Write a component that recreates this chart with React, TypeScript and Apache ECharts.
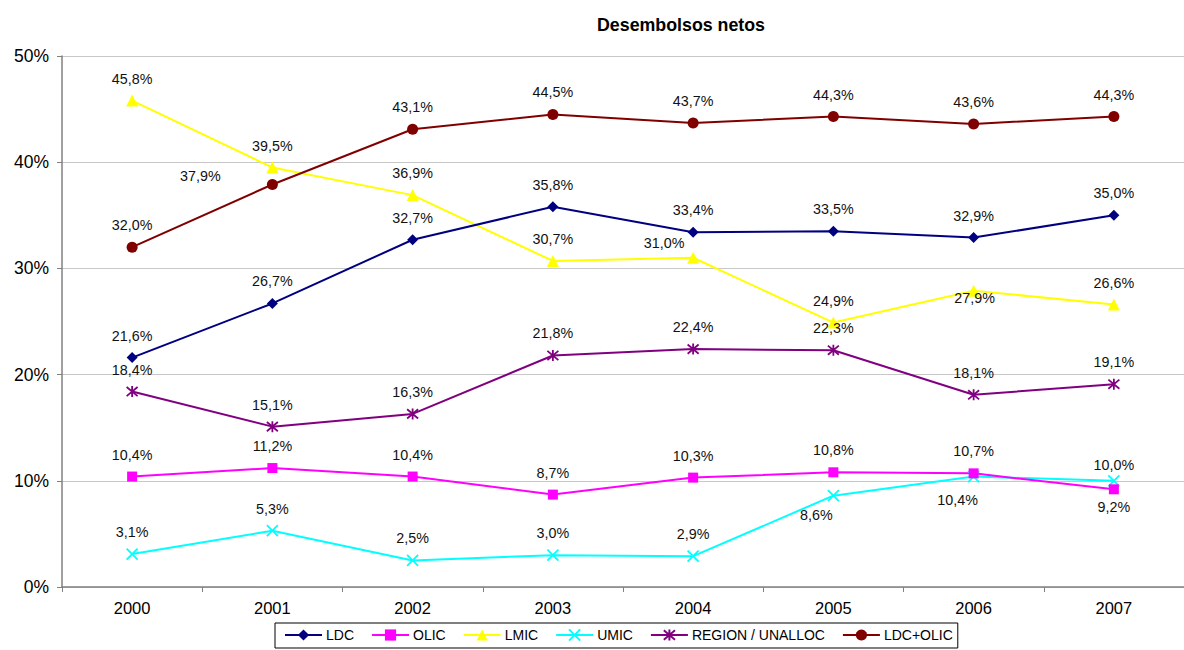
import React, { useEffect, useRef } from "react";
import * as echarts from "echarts";

const years = ["2000", "2001", "2002", "2003", "2004", "2005", "2006", "2007"];
const ldc = [21.6, 26.7, 32.7, 35.8, 33.4, 33.5, 32.9, 35.0];
const olic = [10.4, 11.2, 10.4, 8.7, 10.3, 10.8, 10.7, 9.2];
const lmic = [45.8, 39.5, 36.9, 30.7, 31.0, 24.9, 27.9, 26.6];
const umic = [3.1, 5.3, 2.5, 3.0, 2.9, 8.6, 10.4, 10.0];
const region = [18.4, 15.1, 16.3, 21.8, 22.4, 22.3, 18.1, 19.1];
const ldcOlic = [32.0, 37.9, 43.1, 44.5, 43.7, 44.3, 43.6, 44.3];
const yTicks = [0, 10, 20, 30, 40, 50];

// label placement tweaks (pixel offsets from point centre), separate from data
const defaultOffset: [number, number] = [0, -22];
const labelOffsets: Record<string, Record<number, [number, number]>> = {
  "LDC+OLIC": { 1: [-72, -9] },
  UMIC: { 5: [-17, 19], 6: [-16, 23], 7: [0, -16] },
  OLIC: { 7: [0, 18] },
  LMIC: { 4: [-29, -15], 6: [1, 7] },
};

const fmt = (v: number) => v.toFixed(1).replace(".", ",") + "%";

export default function App() {
  const ref = useRef<HTMLDivElement>(null);
  useEffect(() => {
    document.body.style.margin = "0";
    if (!ref.current) return;
    const chart = echarts.init(ref.current, undefined, { renderer: "svg" });
    const font = "'Liberation Sans', Arial, sans-serif";

    const mk = (
      name: string,
      values: number[],
      color: string,
      symbol: string,
      symbolSize: number,
      stroke?: boolean
    ) => ({
      name,
      type: "line",
      data: values.map((v, i) => {
        const off = (labelOffsets[name] && labelOffsets[name][i]) || defaultOffset;
        return { value: v, label: { offset: off } };
      }),
      symbol,
      symbolSize,
      showAllSymbol: true,
      color,
      lineStyle: { color, width: 2 },
      itemStyle: stroke
        ? { color, borderColor: color, borderWidth: 1.8 }
        : { color },
      label: {
        show: true,
        position: "inside",
        formatter: (p: any) => fmt(p.value),
        fontSize: 14.3,
        fontFamily: font,
        color: "#111",
      },
      emphasis: { disabled: true },
      z: 2,
    });

    const xPath = "path://M0,0L10,10M10,0L0,10";
    const starPath = "path://M0,0L10,10M10,0L0,10M5,-1L5,11";

    chart.setOption({
      animation: false,
      title: {
        text: "Desembolsos netos",
        left: 676,
        textAlign: "center",
        top: 11,
        textStyle: { fontSize: 17.8, fontWeight: "bold", fontFamily: font, color: "#000" },
      },
      grid: { left: 62, top: 56, width: 1136, height: 531 },
      legend: {
        left: 275,
        top: 623,
        itemWidth: 37,
        itemHeight: 14,
        itemGap: 17,
        padding: [5, 5, 6, 9],
        borderColor: "#000",
        borderWidth: 1,
        textStyle: { fontSize: 14, fontFamily: font, color: "#000", padding: [0, 0, 0, -1] },
        data: ["LDC", "OLIC", "LMIC", "UMIC", "REGION / UNALLOC", "LDC+OLIC"],
      },
      xAxis: {
        type: "category",
        data: years,
        boundaryGap: true,
        axisLine: { lineStyle: { color: "#808080", width: 1.5 } },
        axisTick: { show: true, length: 5, lineStyle: { color: "#808080" } },
        axisLabel: { fontSize: 16.5, fontFamily: font, color: "#000", margin: 12 },
      },
      yAxis: {
        type: "value",
        min: yTicks[0],
        max: yTicks[yTicks.length - 1],
        interval: 10,
        axisLine: { show: true, lineStyle: { color: "#808080", width: 1.5 } },
        axisTick: { show: true, length: 5, lineStyle: { color: "#808080" } },
        axisLabel: {
          fontSize: 17.5,
          fontFamily: font,
          color: "#000",
          margin: 13,
          formatter: (v: number) => v + "%",
        },
        splitLine: { show: true, lineStyle: { color: "#c8c8c8", width: 1 } },
      },
      series: [
        mk("UMIC", umic, "#00FFFF", xPath, 11, true),
        mk("OLIC", olic, "#FF00FF", "rect", 10),
        mk("REGION / UNALLOC", region, "#800080", starPath, 11, true),
        mk("LMIC", lmic, "#FFFF00", "triangle", 12),
        mk("LDC", ldc, "#000080", "diamond", 11),
        mk("LDC+OLIC", ldcOlic, "#800000", "circle", 11),
      ],
    });
    return () => chart.dispose();
  }, []);
  return <div ref={ref} style={{ width: 1184, height: 650 }} />;
}
